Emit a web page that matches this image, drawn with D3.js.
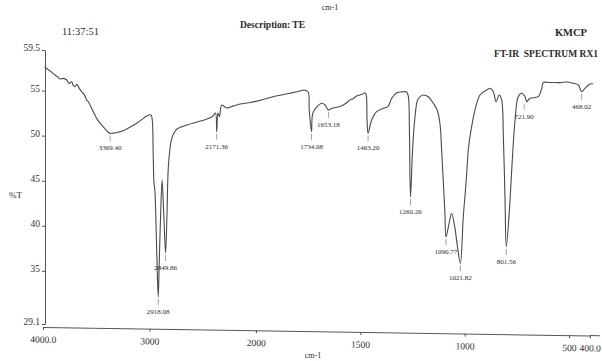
<!DOCTYPE html>
<html>
<head>
<meta charset="utf-8">
<script src="https://cdn.jsdelivr.net/npm/d3@7"></script>
<style>
  body { margin: 0; background: #fff; }
  svg { display: block; font-family: 'Liberation Serif', 'DejaVu Serif', serif; }
  .axis path, .axis line { stroke: #555; }
  .axis text { fill: #333; font-family: 'Liberation Serif', serif; }
</style>
</head>
<body>
<div id="chart"></div>
<script>
// spectrum: wavenumber (cm-1) and %T
const wavenumbers = [3985, 3965, 3925, 3887, 3860, 3840, 3810, 3777, 3756, 3730, 3718, 3700, 3681, 3662, 3637, 3615,
  3590, 3575, 3550, 3528, 3490, 3449, 3390, 3369, 3340, 3290, 3246, 3180, 3120, 3070, 3026, 2986, 2974, 2966, 2958,
  2950, 2930, 2918, 2908, 2897, 2882, 2866, 2849, 2836, 2822, 2795, 2770, 2742, 2648, 2554, 2460, 2404, 2380, 2369,
  2357, 2343, 2322, 2275, 2210, 2150, 2070, 2000, 1919, 1837, 1789, 1775, 1751, 1745, 1734, 1726, 1685, 1669, 1653,
  1637, 1598, 1574, 1550, 1535, 1518, 1490, 1478, 1472, 1468, 1463, 1446, 1422, 1390, 1368, 1350, 1326, 1300, 1278,
  1270, 1265, 1260, 1250, 1240, 1230, 1223, 1199, 1175, 1151, 1132, 1119, 1110, 1095, 1090, 1075, 1063, 1048, 1035,
  1021, 1007, 994, 983, 975, 951, 927, 895, 879, 863, 850, 835, 823, 815, 807, 801, 786, 775, 759, 744, 727, 711, 703,
  688, 648, 631, 624, 590, 544, 510, 480, 456, 440, 424, 400, 385];
const transmittance = [57.6, 57.45, 57.1, 56.73, 56.5, 56.28, 56.35, 56.17, 55.8, 55.98, 55.6, 55.43, 55.7, 55.3, 54.87, 54.6,
  53.95, 53.77, 53.2, 52.65, 51.8, 51.18, 50.4, 50.25, 50.28, 50.4, 50.55, 50.95, 51.37, 51.8, 52.18, 52.29, 51.73, 48.4, 44.75,
  44.0, 36.2, 32.1, 36.2, 40.6, 45.08, 41.2, 36.98, 41.2, 46.74, 49.51, 50.29, 50.73, 51.18, 51.51, 51.84, 52.18, 52.51, 50.44,
  52.51, 52.1, 53.4, 53.07, 53.3, 53.51, 53.65, 53.8, 54.32, 54.7, 54.95, 55.06, 54.87, 52.84, 50.44, 52.6, 53.59, 53.4, 52.84,
  53.03, 53.22, 53.5, 53.95, 54.1, 54.4, 54.6, 54.76, 54.5, 51.73, 50.26, 51.73, 52.66, 53.03, 53.21, 54.14, 54.76, 54.85, 54.84,
  54.3, 50.5, 43.19, 48.4, 51.7, 53.6, 54.09, 54.51, 54.32, 53.59, 52.84, 51.37, 48.07, 41.42, 38.75, 40.27, 41.38, 39.9, 37.68,
  35.83, 41.0, 44.71, 48.4, 49.88, 52.84, 54.51, 55.06, 55.25, 54.87, 53.77, 54.51, 53.95, 49.88, 42.86, 37.68, 41.75, 46.19, 51.73, 54.32, 54.7, 54.32, 53.77,
  54.14, 54.32, 55.25, 55.88, 55.9, 55.88, 55.95, 55.81, 55.62, 54.87, 55.25, 55.73, 55.75];

// peak picks: where the mark sits, and the printed text
const peakWavenumbers = [3369, 2918, 2849, 2369, 1734, 1653, 1463, 1260, 1090, 1021, 801, 715, 440];
const peakTransmittance = [50.25, 32.1, 36.98, 50.44, 50.44, 52.84, 50.26, 43.19, 38.75, 35.83, 37.68, 53.77, 54.87];
const peakLabels = ['3369.40', '2918.08', '2849.86', '2171.36', '1734.08', '1653.18', '1463.20', '1260.26', '1090.77',
  '1021.82', '801.56', '721.90', '468.02'];

const xTickValues = [4000, 3000, 2000, 1500, 1000, 500, 400];
const xTickLabels = ['4000.0', '3000', '2000', '1500', '1000', '500', '400.0'];
const yTickValues = [59.5, 55, 50, 45, 40, 35, 29.1];
const yTickLabels = ['59.5', '55', '50', '45', '40', '35', '29.1'];

const WIDTH = 602;
const HEIGHT = 361;
const TEXT = '#2b2b2b';

const svg = d3.select('#chart')
  .append('svg')
  .attr('width', WIDTH)
  .attr('height', HEIGHT)
  .attr('viewBox', `0 0 ${WIDTH} ${HEIGHT}`);

// instrument scale: 4000-2000 compressed, 2000-400 expanded
const x = d3.scaleLinear().domain([4000, 2000, 400]).range([43, 256, 590]);
const y = d3.scaleLinear().domain([29.1, 59.5]).range([324, 50]);

const xAxis = d3.axisBottom(x)
  .tickValues(xTickValues)
  .tickFormat((d, i) => xTickLabels[i])
  .tickSizeInner(3)
  .tickSizeOuter(0)
  .tickPadding(6);

const yAxis = d3.axisLeft(y)
  .tickValues(yTickValues)
  .tickFormat((d, i) => yTickLabels[i])
  .tickSizeInner(3)
  .tickSizeOuter(0)
  .tickPadding(2);

// the scanned page sits a little skewed, so the bottom axis slopes slightly
const gx = svg.append('g')
  .attr('class', 'x axis')
  .attr('transform', 'translate(0,327) rotate(0.9,43,0)')
  .call(xAxis);
gx.selectAll('text').style('font-size', '9.5px');
gx.append('line')
  .attr('x1', x(400)).attr('x2', 600)
  .attr('stroke', '#555');

const gy = svg.append('g')
  .attr('class', 'y axis')
  .attr('transform', 'translate(45,0)')
  .call(yAxis);
gy.selectAll('text').style('font-size', '9.5px').attr('dy', '0.1em');

const points = wavenumbers.map((w, i) => [w, transmittance[i]]);

const line = d3.line()
  .x(d => x(d[0]))
  .y(d => y(d[1]))
  .curve(d3.curveCatmullRom.alpha(0.5));

svg.append('path')
  .datum(points)
  .attr('fill', 'none')
  .attr('stroke', '#4a4a4a')
  .attr('stroke-width', 1.1)
  .attr('stroke-linejoin', 'round')
  .attr('d', line);

// peak markers and labels
const peaks = svg.append('g').attr('class', 'peaks');
peakWavenumbers.forEach((w, i) => {
  const px = x(w);
  const py = y(peakTransmittance[i]);
  peaks.append('line')
    .attr('x1', px).attr('x2', px)
    .attr('y1', py + 2).attr('y2', py + 8)
    .attr('stroke', '#777')
    .attr('stroke-width', 0.7);
  peaks.append('text')
    .attr('x', px)
    .attr('y', py + 17)
    .attr('text-anchor', 'middle')
    .style('font-size', '7px')
    .style('fill', TEXT)
    .text(peakLabels[i]);
});

// header and axis titles
const addText = (tx, ty, str, size, weight, anchor) => svg.append('text')
  .attr('x', tx).attr('y', ty)
  .attr('text-anchor', anchor || 'start')
  .style('font-size', size + 'px')
  .style('font-weight', weight || 'normal')
  .style('fill', TEXT)
  .style('white-space', 'pre')
  .text(str);

addText(330, 10, 'cm-1', 8, 'normal', 'middle');
addText(62, 35, '11:37:51', 10.5);
addText(240, 28, 'Description: TE', 9.5, 'bold');
addText(587, 36, 'KMCP', 10.5, 'bold', 'end');
addText(598, 57, 'FT-IR  SPECTRUM RX1', 9.5, 'bold', 'end');
addText(9, 198, '%T', 9);
addText(313, 358, 'cm-1', 8, 'normal', 'middle');
</script>
</body>
</html>
